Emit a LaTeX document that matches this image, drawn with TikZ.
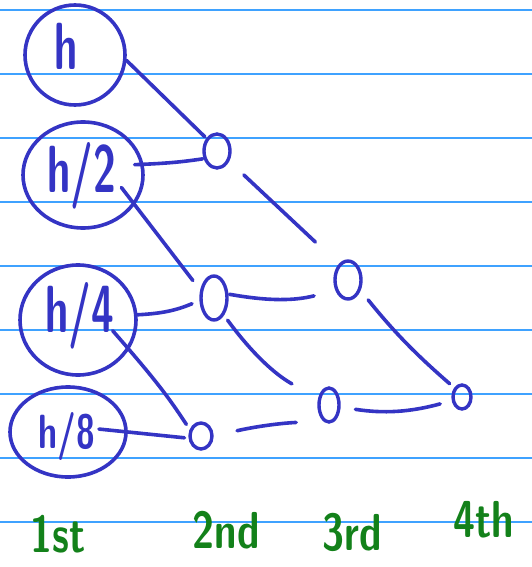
\documentclass[tikz,border=0pt]{standalone}
\usetikzlibrary{shapes.geometric}
\definecolor{ink}{HTML}{3434C4}
\definecolor{greenink}{HTML}{13811A}
\definecolor{ruling}{HTML}{3FA2FF}
\newcommand{\tall}[1]{\scalebox{0.9}[1.45]{#1}}
\tikzset{
  big/.style={draw=ink, line width=3.6pt, ellipse, inner sep=0pt},
  letters/.style={text=ink, font=\sffamily\bfseries\fontsize{46}{46}\selectfont},
  dot/.style={draw=ink, line width=3.4pt, ellipse, inner sep=0pt},
  link/.style={draw=ink, line width=3.6pt, line cap=round},
  tag/.style={text=greenink, font=\sffamily\bfseries\fontsize{40}{40}\selectfont},
  rule/.style={draw=ruling, line width=1.4pt}
}
\begin{document}
\begin{tikzpicture}[x=1pt, y=-1pt]
  \useasboundingbox (0,0) rectangle (532,567);
  \fill[white] (0,0) rectangle (532,567);
  % ruled paper
  \foreach \yy in {10,74,138,202,266,330,394,458,522}
    \draw[rule] (0,\yy) -- (532,\yy);

  % first-level circles
  \node[big, minimum width=100pt, minimum height=100pt] (h1) at (75,55) {};
  \node[big, minimum width=120pt, minimum height=106pt] (h2) at (83,175) {};
  \node[big, minimum width=116pt, minimum height=110pt] (h4) at (78,320) {};
  \node[big, minimum width=116pt, minimum height=90pt] (h8) at (68,432) {};
  \node[letters] (t1) at (66,46) {\tall{h}};
  \node[letters] (t2) at (82,176) {\tall{h/2}};
  \node[letters] (t4) at (80,316) {\tall{h/4}};
  \node[letters, font=\sffamily\bfseries\fontsize{40}{40}\selectfont] (t8) at (67,436) {\scalebox{0.85}[1.2]{h/8}};

  % small nodes
  \node[dot, minimum width=26pt, minimum height=34pt] (a) at (217,151) {};
  \node[dot, minimum width=26pt, minimum height=44pt] (b) at (214,298) {};
  \node[dot, minimum width=22pt, minimum height=26pt] (c) at (201,436) {};
  \node[dot, minimum width=26pt, minimum height=38pt] (d) at (348,280) {};
  \node[dot, minimum width=20pt, minimum height=34pt] (e) at (329,405) {};
  \node[dot, minimum width=18pt, minimum height=24pt] (f) at (462,397) {};

  % connectors
  \draw[link, shorten >=2pt] (h1.-6) -- (a.130);
  \draw[link, shorten <=-9pt, shorten >=1pt] (h2.10) to[bend right=3] (a.210);
  \draw[link, shorten <=20pt, shorten >=32pt] (a.-40) -- (d.120);
  \draw[link, shorten <=-22pt, shorten >=12pt] (h2.-30) -- (b.150);
  \draw[link, shorten >=8pt] (h4.5) to[bend right=10] (b.190);
  \draw[link, shorten <=1pt, shorten >=22pt] (b.15) to[bend right=12] (d.220);
  \draw[link, shorten <=6pt, shorten >=30pt] (b.-60) to[bend right=12] (e.150);
  \draw[link, shorten <=-25pt, shorten >=6pt] (h4.-30) to[bend left=4] (c.150);
  \draw[link, shorten <=-29pt, shorten >=4pt] (h8.0) -- (c.190);
  \draw[link, shorten <=24pt, shorten >=27pt] (c.0) to[bend left=5] (e.250);
  \draw[link, shorten <=15pt, shorten >=12pt] (e.-10) to[bend right=12] (f.200);
  \draw[link, shorten <=12pt, shorten >=6pt] (d.-40) to[bend right=5] (f.130);

  % level labels
  \node[tag] (l1) at (58,534) {\scalebox{1}[1.3]{1st}};
  \node[tag] (l2) at (226,530) {\scalebox{1}[1.3]{2nd}};
  \node[tag] (l3) at (352,532) {\scalebox{1}[1.3]{3rd}};
  \node[tag] (l4) at (484,520) {\scalebox{1}[1.3]{4th}};
\end{tikzpicture}
\end{document}
